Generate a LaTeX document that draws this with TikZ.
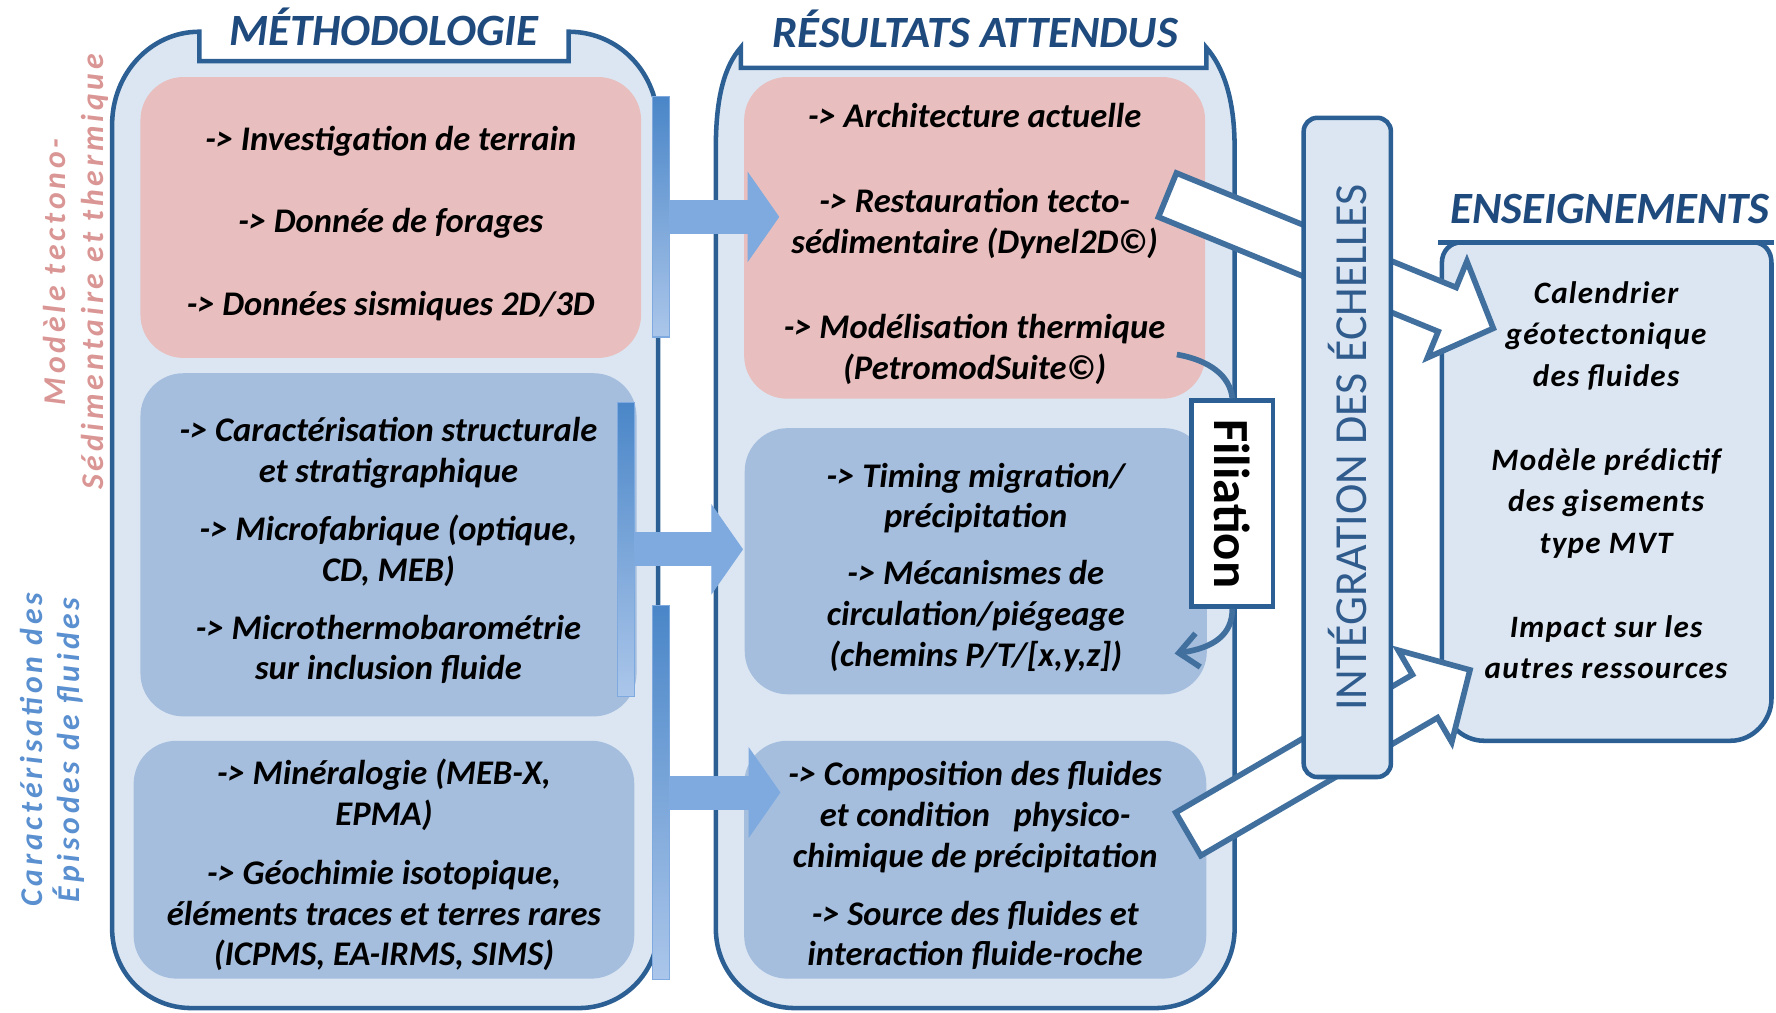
\documentclass[tikz,border=0pt]{standalone}
\usepackage{fontspec}
\setmainfont{Carlito}
\newfontfamily\spacedfont[LetterSpace=12]{Carlito}
\newfontfamily\ensfont[LetterSpace=4]{Carlito}
\usetikzlibrary{arrows.meta, calc}

\definecolor{contline}{HTML}{2C5F93}
\definecolor{contfill}{HTML}{DCE6F2}
\definecolor{pinkfill}{HTML}{E8BFBE}
\definecolor{bluefill}{HTML}{A5BEDE}
\definecolor{titleblue}{HTML}{1F4A7E}
\definecolor{pinklabel}{HTML}{D99694}
\definecolor{bluelabel}{HTML}{5A8FD0}
\definecolor{integtext}{HTML}{2F5B8D}
\definecolor{bartop}{HTML}{4A86C8}
\definecolor{barbottom}{HTML}{ABC6EA}
\definecolor{arrowfill}{HTML}{7EAADF}
\definecolor{arrowline}{HTML}{41709F}

\begin{document}
\begin{tikzpicture}[x=1pt, y=-1pt,
  container/.style={draw=contline, line width=4pt, fill=contfill},
  itembox/.style={rectangle, rounded corners=38pt, inner sep=0pt, align=center,
    font=\fontsize{30.5}{36}\selectfont\bfseries\itshape},
  pinkbox/.style={itembox, fill=pinkfill},
  bluebox/.style={itembox, fill=bluefill},
  coltitle/.style={anchor=base, text=titleblue, font=\fontsize{39.5}{44}\selectfont\bfseries\itshape},
  sidelabel/.style={rotate=90, align=center, font=\fontsize{28}{33}\selectfont\spacedfont\bfseries\itshape},
  feedbar/.style={rectangle, inner sep=0pt, minimum width=15pt, draw=arrowfill, line width=1pt, top color=bartop, bottom color=barbottom},
  bluearrow/.style={draw=arrowfill, line width=30pt, -{Triangle[length=28pt, width=80pt, line width=1pt]}},
  whitearrow/.style={draw=arrowline, line width=5pt, fill=white},
  filcurve/.style={draw=arrowline, line width=5pt},
  filbox/.style={rectangle, draw=contline, line width=4pt, fill=white, inner sep=0pt, font=\fontsize{44.7}{50}\selectfont\bfseries},
  integbox/.style={rectangle, rounded corners=12pt, draw=contline, line width=4pt, fill=contfill, inner sep=0pt, text=integtext, font=\fontsize{40.5}{44}\selectfont}]

\useasboundingbox (0, 0) rectangle (1568, 894);

\node (lbltecto)[sidelabel, text=pinklabel] at (67, 240) {Modèle tectono-\\Sédimentaire et thermique};
\node (lblfluides)[sidelabel, text=bluelabel] at (46, 662) {Caractérisation des\\Épisodes de fluides};

\draw[container] (99, 820) -- (99, 110) .. controls (99, 65) and (133, 28) .. (176, 28) -- (176, 54) -- (502, 54) -- (502, 28) .. controls (547, 28) and (581, 65) .. (581, 110) -- (581, 820) .. controls (581, 859) and (550, 890) .. (511, 890) -- (169, 890) .. controls (130, 890) and (99, 859) .. (99, 820) -- cycle;
\draw[container] (632, 820) -- (632, 130) .. controls (632, 85) and (640, 58) .. (654, 42) -- (654, 60) -- (1065, 60) -- (1065, 42) .. controls (1079, 58) and (1090, 85) .. (1090, 130) -- (1090, 820) .. controls (1090, 859) and (1059, 890) .. (1020, 890) -- (702, 890) .. controls (663, 890) and (632, 859) .. (632, 820) -- cycle;
\draw[container] (1273, 232) .. controls (1273, 222) and (1280, 214) .. (1290, 214) -- (1548, 214) .. controls (1558, 214) and (1564, 222) .. (1564, 232) -- (1564, 617) .. controls (1564, 636) and (1548, 654) .. (1528, 654) -- (1310, 654) .. controls (1290, 654) and (1273, 636) .. (1273, 617) -- cycle;
\draw[contline, line width=5pt] (1270, 214) -- (1566, 214);

\node (lpink)[pinkbox, minimum width=442pt, minimum height=248pt] at (345, 192) {\rule{0pt}{32pt}-> Investigation de terrain\\[37pt]-> Donnée de forages\\[37pt]-> Données sismiques 2D/3D};
\node (lblue)[bluebox, minimum width=438pt, minimum height=303pt] at (343, 481) {\rule{0pt}{32pt}-> Caractérisation structurale\\et stratigraphique\\[15pt]-> Microfabrique (optique,\\CD, MEB)\\[15pt]-> Microthermobarométrie\\sur inclusion fluide};
\node (lblue2)[bluebox, minimum width=442pt, minimum height=210pt] at (339, 759) {\rule{0pt}{32pt}-> Minéralogie (MEB-X,\\EPMA)\\[16pt]-> Géochimie isotopique,\\éléments traces et terres rares\\(ICPMS, EA-IRMS, SIMS)};

\node (mpink)[pinkbox, minimum width=407pt, minimum height=284pt] at (860.5, 210) {\rule{0pt}{32pt}-> Architecture actuelle\\[39pt]-> Restauration tecto-\\sédimentaire (Dynel2D©)\\[39pt]-> Modélisation thermique\\(PetromodSuite©)};
\node (mblue)[bluebox, minimum width=408pt, minimum height=235pt] at (861.5, 495.5) {\rule{0pt}{32pt}-> Timing migration/\\précipitation\\[14pt]-> Mécanismes de\\circulation/piégeage\\(chemins P/T/[x,y,z])};
\node (mblue2)[bluebox, minimum width=408pt, minimum height=210pt] at (861, 759) {\rule{0pt}{32pt}-> Composition des fluides\\et condition~~~physico-\\chimique de précipitation\\[15pt]-> Source des fluides et\\interaction fluide-roche};

\node (bar1)[feedbar, minimum height=212pt] at (583.5, 191.5) {};
\node (bar2)[feedbar, minimum height=260pt] at (552.7, 485) {};
\node (bar3)[feedbar, minimum height=330pt] at (583.5, 699.7) {};

\coordinate (tip1) at (688, 191.5);
\coordinate (tip2) at (656, 485);
\coordinate (tip3) at (689, 699.7);

\draw[bluearrow] (bar1.east) -- (tip1);
\draw[bluearrow] (bar2.east) -- (tip2);
\draw[bluearrow] (bar3.east) -- (tip3);

\node (filiation)[filbox, rotate=-90, minimum width=182pt, minimum height=72pt] at (1088, 444.6) {Filiation};
\coordinate (filstart) at (1039, 313);
\coordinate (filend) at (1037, 577);
\draw[filcurve] (filstart) .. controls (1068, 318) and (1086, 332) .. (filiation.west);
\draw[filcurve, -{Straight Barb[length=17pt, width=30pt]}] (filiation.east) .. controls (1088, 560) and (1072, 572) .. (filend);

\coordinate (wa1s) at (1030.7, 172.2);
\coordinate (wa1t) at (1318.4, 289.9);
\coordinate (wa1b) at ($(wa1t)!44pt!(wa1s)$);
\draw[whitearrow] ($(wa1s)!21pt!90:(wa1t)$) -- ($(wa1b)!21pt!90:(wa1t)$) -- ($(wa1b)!46pt!90:(wa1t)$) -- (wa1t) -- ($(wa1b)!46pt!-90:(wa1t)$) -- ($(wa1b)!21pt!-90:(wa1t)$) -- ($(wa1s)!21pt!-90:(wa1t)$) -- cycle;

\coordinate (wa2s) at (1049.1, 736.4);
\coordinate (wa2t) at (1297.8, 591.5);
\coordinate (wa2b) at ($(wa2t)!46pt!(wa2s)$);
\draw[whitearrow] ($(wa2s)!22pt!90:(wa2t)$) -- ($(wa2b)!22pt!90:(wa2t)$) -- ($(wa2b)!47pt!90:(wa2t)$) -- (wa2t) -- ($(wa2b)!47pt!-90:(wa2t)$) -- ($(wa2b)!22pt!-90:(wa2t)$) -- ($(wa2s)!22pt!-90:(wa2t)$) -- cycle;

\node (integ)[integbox, rotate=90, minimum width=582pt, minimum height=77pt] at (1189.5, 395) {INTÉGRATION DES ÉCHELLES};

\node (tmetho)[coltitle] at (339, 40) {MÉTHODOLOGIE};
\node (tresult)[coltitle] at (861, 42) {RÉSULTATS ATTENDUS};
\node (tenseign)[coltitle] at (1421.5, 197) {ENSEIGNEMENTS};

\node (enstext)[align=center, font=\fontsize{27.5}{36.5}\selectfont\ensfont\bfseries\itshape] at (1418, 424) {Calendrier\\géotectonique\\des fluides\\[38pt]Modèle prédictif\\des gisements\\type MVT\\[38pt]Impact sur les\\autres ressources};

\end{tikzpicture}
\end{document}
